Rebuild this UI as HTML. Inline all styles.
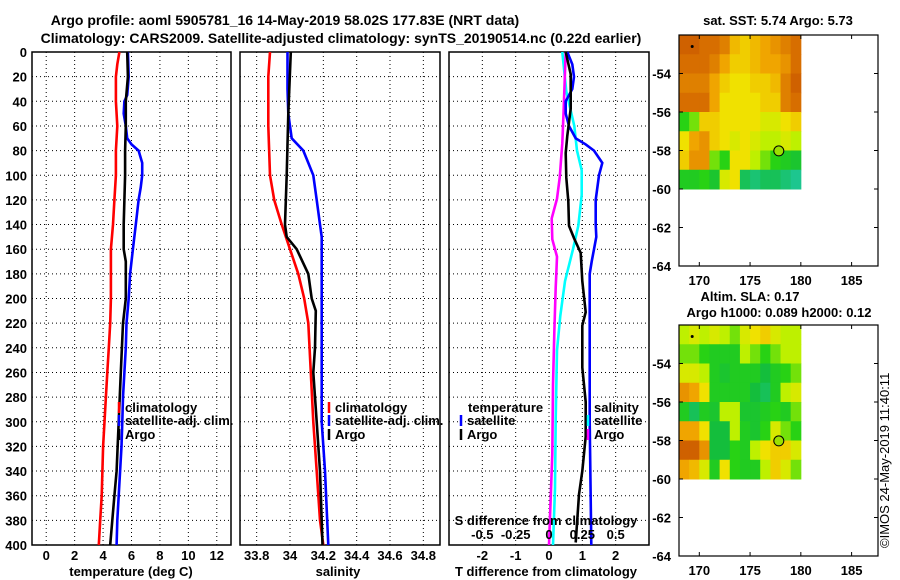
<!DOCTYPE html>
<html><head><meta charset="utf-8">
<style>
html,body{margin:0;padding:0;background:#fff;}
svg{display:block;font-family:"Liberation Sans",sans-serif;font-weight:bold;}
</style></head>
<body>
<svg id="chart" width="900" height="580" viewBox="0 0 900 580" xmlns="http://www.w3.org/2000/svg">
<text x="285" y="25" font-size="14" text-anchor="middle">Argo profile: aoml 5905781_16 14-May-2019 58.02S 177.83E (NRT data)</text>
<text x="341" y="43" font-size="14" text-anchor="middle">Climatology: CARS2009. Satellite-adjusted climatology: synTS_20190514.nc (0.22d earlier)</text>
<g id="panels"></g>
<text x="131" y="576" font-size="13" text-anchor="middle">temperature (deg C)</text>
<text x="338" y="576" font-size="13" text-anchor="middle">salinity</text>
<text x="546" y="576" font-size="13" text-anchor="middle">T difference from climatology</text>
<text x="546" y="525" font-size="13" text-anchor="middle">S difference from climatology</text>
<text x="778" y="25" font-size="13" text-anchor="middle">sat. SST: 5.74 Argo: 5.73</text>
<text x="750" y="301" font-size="13" text-anchor="middle">Altim. SLA: 0.17</text>
<text x="779" y="317" font-size="13" text-anchor="middle">Argo h1000: 0.089 h2000: 0.12</text>
<text font-size="13" font-weight="normal" transform="translate(889,548) rotate(-90)">©IMOS 24-May-2019 11:40:11</text>
</svg>
<script>
// ---- profile data (depth m) ----
const tClimDepth=[0,10,20,40,60,80,100,120,140,160,180,200,220,240,260,280,300,320,340,360,380,400];
const tClimVal=[5.15,5.0,4.9,4.9,5.0,4.9,4.9,4.8,4.7,4.55,4.55,4.55,4.5,4.4,4.3,4.2,4.1,4.0,3.95,3.9,3.8,3.7];
const tSatDepth=[0,20,35,40,50,60,70,75,80,90,100,110,120,140,160,180,200,220,240,260,280,300,320,340,360,380,400];
const tSatVal=[5.75,5.8,5.7,5.5,5.45,5.6,5.7,6.0,6.5,6.75,6.75,6.65,6.5,6.3,6.1,5.9,5.8,5.65,5.6,5.5,5.4,5.35,5.3,5.2,5.1,5.0,4.95];
const tArgoDepth=[0,20,40,60,80,100,140,160,170,200,220,260,300,340,360,380,400];
const tArgoVal=[5.7,5.75,5.6,5.6,5.55,5.55,5.45,5.45,5.6,5.6,5.4,5.25,5.1,4.95,4.8,4.65,4.5];
const sClimDepth=[0,20,60,100,120,140,160,180,200,220,260,300,340,380,400];
const sClimVal=[33.88,33.87,33.87,33.88,33.905,33.95,34.0,34.05,34.085,34.11,34.125,34.14,34.16,34.18,34.2];
const sSatDepth=[0,30,50,60,70,80,90,100,120,140,150,300,340,400];
const sSatVal=[33.985,33.985,33.99,34.0,34.01,34.08,34.11,34.14,34.16,34.18,34.19,34.19,34.21,34.23];
const sArgoDepth=[0,50,100,140,150,160,180,200,210,240,260,300,340,380,400];
const sArgoVal=[34.005,33.99,33.98,33.97,33.98,34.04,34.11,34.13,34.155,34.15,34.14,34.16,34.18,34.19,34.195];
const dTSatDepth=[0,10,20,30,40,50,60,70,75,80,90,100,120,140,150,160,170,180,200,300,400];
const dTSatVal=[0.55,0.7,0.75,0.7,0.5,0.5,0.6,0.8,1.1,1.35,1.6,1.5,1.4,1.4,1.42,1.35,1.28,1.22,1.22,1.22,1.27];
const dTArgoDepth=[0,18,46,68,82,102,121,141,151,163,186,211,222,256,284,312,340,359,398];
const dTArgoVal=[0.5,0.65,0.65,0.55,0.5,0.52,0.58,0.6,0.75,0.95,1.0,1.1,1.0,1.0,1.1,1.1,1.0,0.9,0.8];
const dSSatDepth=[0,32,60,80,96,116,141,160,186,214,242,298,354,400];
const dSSatVal=[0.1,0.13,0.19,0.21,0.245,0.245,0.22,0.18,0.12,0.085,0.06,0.05,0.045,0.03];
const dSArgoDepth=[0,46,74,102,119,135,152,166,180,191,228,270,326,400];
const dSArgoVal=[0.125,0.11,0.1,0.08,0.06,0.02,0.025,0.06,0.055,0.05,0.04,0.03,0.025,0.0];
const depthTicks=[0,20,40,60,80,100,120,140,160,180,200,220,240,260,280,300,320,340,360,380,400];
const tTicks=[0,2,4,6,8,10,12];
const sTicks=[33.8,34,34.2,34.4,34.6,34.8];
const sTickLabels=["33.8","34","34.2","34.4","34.6","34.8"];
const dTTicks=[-2,-1,0,1,2];
const dSTicks=[-0.5,-0.25,0,0.25,0.5];
const dSTickLabels=["-0.5","-0.25","0","0.25","0.5"];
// ---- map data (rows lat -52..-60, cols lon 168..180) ----
const mapLons=[168,169,170,171,172,173,174,175,176,177,178,179];
const mapLats=[-52,-53,-54,-55,-56,-57,-58,-59];
const sstGrid=[
[0.9,0.9,0.85,0.85,0.8,0.65,0.6,0.65,0.7,0.75,0.8,0.85],
[0.85,0.85,0.85,0.8,0.7,0.6,0.6,0.65,0.7,0.7,0.75,0.85],
[0.8,0.8,0.8,0.7,0.6,0.55,0.55,0.6,0.6,0.65,0.8,0.9],
[0.85,0.85,0.85,0.7,0.55,0.55,0.55,0.55,0.6,0.6,0.8,0.85],
[0.35,0.4,0.6,0.6,0.55,0.55,0.55,0.55,0.5,0.5,0.55,0.6],
[0.55,0.7,0.75,0.6,0.55,0.5,0.55,0.5,0.45,0.45,0.5,0.45],
[0.6,0.75,0.75,0.4,0.35,0.55,0.55,0.45,0.4,0.35,0.3,0.25],
[0.3,0.3,0.35,0.25,0.5,0.55,0.15,0.1,0.15,0.15,0.1,0.05]];
const slaGrid=[
[0.45,0.5,0.45,0.5,0.45,0.4,0.5,0.55,0.6,0.5,0.45,0.45],
[0.4,0.4,0.35,0.3,0.3,0.3,0.45,0.4,0.35,0.4,0.45,0.45],
[0.5,0.5,0.45,0.3,0.25,0.3,0.3,0.3,0.2,0.3,0.35,0.4],
[0.75,0.7,0.55,0.3,0.3,0.3,0.3,0.2,0.15,0.3,0.45,0.5],
[0.3,0.15,0.3,0.25,0.45,0.45,0.25,0.25,0.3,0.35,0.3,0.4],
[0.7,0.7,0.55,0.2,0.2,0.45,0.3,0.25,0.35,0.5,0.4,0.35],
[0.9,0.9,0.75,0.2,0.2,0.35,0.3,0.45,0.55,0.6,0.6,0.5],
[0.7,0.65,0.5,0.3,0.55,0.35,0.3,0.3,0.45,0.6,0.5,0.4]];
const argoLon=177.83, argoLat=-58.02;
const lonTicks=[170,175,180,185];
const latTicks=[-54,-56,-58,-60,-62,-64];

const NS="http://www.w3.org/2000/svg";
const root=document.getElementById('panels');
function mk(tag,attrs,parent){const e=document.createElementNS(NS,tag);for(const k in attrs)e.setAttribute(k,attrs[k]);(parent||root).appendChild(e);return e;}
const Y0=52,Y1=545;
function yDepth(d){return Y0+(d/400)*(Y1-Y0);}
function linScale(d0,d1,r0,r1){return v=>r0+(v-d0)/(d1-d0)*(r1-r0);}

function panel(name,x0,x1,xs,ticks,labels,showY){
  const g=mk('g',{});
  
  
  depthTicks.forEach(d=>{
    const l=mk('line',{x1:x0,x2:x1,y1:yDepth(d),y2:yDepth(d),stroke:'#000','stroke-width':1,'stroke-dasharray':'1,3'},g);
    
    
    if(showY){
      const t=mk('text',{x:27,y:yDepth(d)+5,'font-size':13,'text-anchor':'end'},g);
      
      
      t.textContent=d;
    }
  });
  ticks.forEach((v,i)=>{
    const l=mk('line',{x1:xs(v),x2:xs(v),y1:Y0,y2:Y1,stroke:'#000','stroke-width':1,'stroke-dasharray':'1,3'},g);
    
    
    if(labels){
      const t=mk('text',{x:xs(v),y:560,'font-size':13,'text-anchor':'middle'},g);
      
      
      t.textContent=labels[i];
    }
  });
  const r=mk('rect',{x:x0,y:Y0,width:x1-x0,height:Y1-Y0,fill:'none',stroke:'#000','stroke-width':1.5},g);
  
  
  return g;
}
function series(g,name,depths,vals,xs,color){
  const pts=depths.map((d,i)=>xs(vals[i]).toFixed(1)+','+yDepth(d).toFixed(1)).join(' ');
  const p=mk('polyline',{points:pts,fill:'none',stroke:color,'stroke-width':2.6,'stroke-linejoin':'miter'},g);
  
  
}
function legendItem(g,name,x,y,color,text){
  const m=mk('line',{x1:x,x2:x,y1:y-10,y2:y+1,stroke:color,'stroke-width':2.5},g);
  
  
  if(text){
    const t=mk('text',{x:x+6,y:y,'font-size':13},g);
    
    
    t.textContent=text;
  }
}
// panel 1 temperature
const xT=linScale(-1,13,32,231);
const p1=panel('temperature-panel',32,231,xT,tTicks,tTicks.map(String),true);
series(p1,'temperature-climatology-line',tClimDepth,tClimVal,xT,'#ff0000');
series(p1,'temperature-satellite-line',tSatDepth,tSatVal,xT,'#0000ff');
series(p1,'temperature-argo-line',tArgoDepth,tArgoVal,xT,'#000000');
legendItem(p1,'legend-climatology',119,412,'#ff0000','climatology');
legendItem(p1,'legend-satellite-adj',119,425,'#0000ff','satellite-adj. clim.');
legendItem(p1,'legend-argo',119,439,'#000000','Argo');
// panel 2 salinity
const xS=linScale(33.7,34.9,240,440);
const p2=panel('salinity-panel',240,440,xS,sTicks,sTickLabels,false);
series(p2,'salinity-climatology-line',sClimDepth,sClimVal,xS,'#ff0000');
series(p2,'salinity-satellite-line',sSatDepth,sSatVal,xS,'#0000ff');
series(p2,'salinity-argo-line',sArgoDepth,sArgoVal,xS,'#000000');
legendItem(p2,'legend-climatology-s',329,412,'#ff0000','climatology');
legendItem(p2,'legend-satellite-adj-s',329,425,'#0000ff','satellite-adj. clim.');
legendItem(p2,'legend-argo-s',329,439,'#000000','Argo');
// panel 3 differences
const xD=linScale(-3,3,449,649);
const xDS=linScale(-0.75,0.75,449,649);
const p3=panel('difference-panel',449,649,xD,dTTicks,dTTicks.map(String),false);
series(p3,'s-satellite-diff-line',dSSatDepth,dSSatVal,xDS,'#00ffff');
series(p3,'s-argo-diff-line',dSArgoDepth,dSArgoVal,xDS,'#ff00ff');
series(p3,'t-satellite-diff-line',dTSatDepth,dTSatVal,xD,'#0000ff');
series(p3,'t-argo-diff-line',dTArgoDepth,dTArgoVal,xD,'#000000');
dSTicks.forEach((v,i)=>{
  const t=mk('text',{x:xDS(v),y:539,'font-size':13,'text-anchor':'middle'},p3);
  
  
  t.textContent=dSTickLabels[i];
});
{const t=mk('text',{x:468,y:412,'font-size':13},p3);


t.textContent='temperature';
const t2=mk('text',{x:594,y:412,'font-size':13},p3);


t2.textContent='salinity';}
legendItem(p3,'legend-t-satellite',461,425,'#0000ff','satellite');
legendItem(p3,'legend-t-argo',461,439,'#000000','Argo');
legendItem(p3,'legend-s-satellite',588,425,'#00ffff','satellite');
legendItem(p3,'legend-s-argo',588,439,'#ff00ff','Argo');

// ---- maps ----
const cstops=[[0,[32,200,170]],[0.2,[20,190,60]],[0.35,[40,210,20]],[0.45,[190,240,0]],[0.55,[240,225,0]],[0.7,[240,165,0]],[0.85,[215,110,0]],[1,[190,70,0]]];
function cmap(v){for(let i=1;i<cstops.length;i++){if(v<=cstops[i][0]){const a=cstops[i-1],b=cstops[i];const f=(v-a[0])/(b[0]-a[0]);return 'rgb('+a[1].map((c,k)=>Math.round(c+(b[1][k]-c)*f)).join(',')+')';}}return 'rgb(190,70,0)';}
const lonX=linScale(168,187.6,679,878);
function drawMap(name,grid,top){
  const bottom=top+231;
  const latY=linScale(-52,-64,top,bottom);
  const g=mk('g',{});
  
  
  grid.forEach((row,r)=>row.forEach((v,c)=>{
    const x=lonX(mapLons[c]),y=latY(mapLats[r]);
    const w=lonX(mapLons[c]+1)-x+0.5,h=latY(mapLats[r]-1)-y+0.5;
    const cell=mk('rect',{x:x,y:y,width:w,height:h,fill:cmap(v)},g);
    
    
  }));
  const fr=mk('rect',{x:679,y:top,width:199,height:231,fill:'none',stroke:'#000','stroke-width':1.2},g);
  
  
  lonTicks.forEach(l=>{
    mk('line',{x1:lonX(l),x2:lonX(l),y1:top,y2:top+4,stroke:'#000'},g);
    mk('line',{x1:lonX(l),x2:lonX(l),y1:bottom,y2:bottom-4,stroke:'#000'},g);
    const t=mk('text',{x:lonX(l),y:bottom+19,'font-size':13,'text-anchor':'middle'},g);
    
    
    t.textContent=l;
  });
  latTicks.forEach(l=>{
    mk('line',{x1:679,x2:683,y1:latY(l),y2:latY(l),stroke:'#000'},g);
    mk('line',{x1:878,x2:874,y1:latY(l),y2:latY(l),stroke:'#000'},g);
    const t=mk('text',{x:671,y:latY(l)+5,'font-size':13,'text-anchor':'end'},g);
    
    
    t.textContent=l;
  });
  const dot=mk('circle',{cx:lonX(169.3),cy:latY(-52.6),r:1.5,fill:'#000'},g);
  
  
  const c=mk('circle',{cx:lonX(argoLon),cy:latY(argoLat),r:5,fill:'#9be000',stroke:'#000','stroke-width':1},g);
  
  
}
drawMap('sst-map',sstGrid,35);
drawMap('sla-map',slaGrid,325);
</script>
</body></html>
